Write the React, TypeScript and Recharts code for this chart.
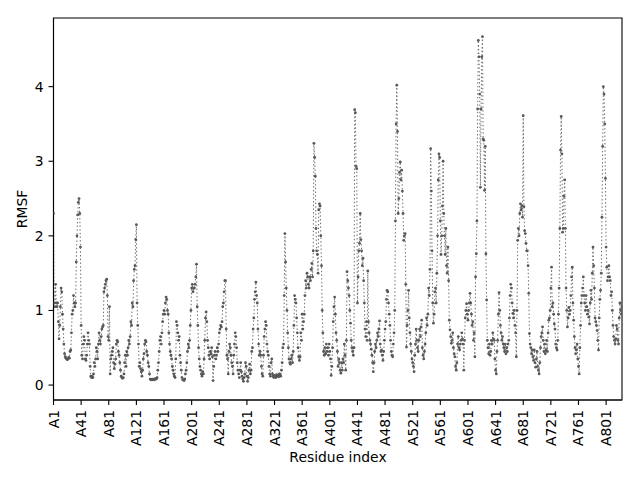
import React from "react";
import { LineChart, Line, XAxis, YAxis, ReferenceArea, Label } from "recharts";

// RMSF per residue (index 0 = residue A1)
const rmsfA1 = [
  2.3, 1.1, 1.05, 1.35, 1.1, 1.05, 1.1, 0.85, 0.62, 0.8,
  1.05, 1.3, 1.25, 0.95, 0.75, 0.55, 0.42, 0.38, 0.36, 0.35,
  0.34, 0.35, 0.37, 0.36, 0.45, 0.47, 0.7, 0.95, 1.0, 1.2,
  1.1, 1.05, 1.1, 1.65, 2.0, 2.28, 2.45, 2.5, 2.3, 1.85,
  0.8, 0.4, 0.35, 0.55, 0.65, 0.6, 0.35, 0.33, 0.4, 0.55,
  0.7, 0.6, 0.55, 0.25, 0.12, 0.1, 0.12, 0.1, 0.15, 0.3,
  0.25, 0.35, 0.5, 0.45, 0.35, 0.55, 0.7, 0.6, 0.55, 0.65,
  0.75, 0.78, 0.8, 1.25, 1.3, 1.35, 1.4, 1.42, 1.2, 0.65,
  0.6, 1.05, 0.15, 0.35, 0.4, 0.45, 0.5, 0.3, 0.22, 0.28,
  0.35, 0.55, 0.6, 0.58, 0.45, 0.4, 0.3, 0.2, 0.12, 0.1,
];
const rmsfA101 = [
  0.09, 0.1, 0.15, 0.3, 0.4, 0.25, 0.45, 0.4, 0.5, 0.6,
  0.55, 0.65, 0.85, 0.8, 1.1, 1.05, 1.4, 1.55, 1.6, 1.95,
  2.15, 1.1, 0.8, 0.55, 0.25, 0.3, 0.22, 0.18, 0.12, 0.2,
  0.35, 0.42, 0.55, 0.6, 0.58, 0.45, 0.4, 0.3, 0.25, 0.15,
  0.08, 0.07, 0.07, 0.08, 0.07, 0.08, 0.07, 0.08, 0.09, 0.08,
  0.1, 0.2, 0.3, 0.45, 0.6, 0.65, 0.55, 0.7, 0.85, 0.95,
  1.0, 0.95, 1.1, 1.18, 1.15, 1.0, 0.95, 0.7, 0.55, 0.45,
  0.4, 0.35, 0.25, 0.2, 0.15, 0.12, 0.1, 0.35, 0.85, 0.8,
  0.7, 0.6, 0.65, 0.4, 0.3, 0.2, 0.1, 0.07, 0.07, 0.06,
  0.08, 0.15, 0.2, 0.3, 0.45, 0.55, 0.5, 0.6, 0.8, 1.0,
];
const rmsfA201 = [
  1.3, 1.35, 1.25, 1.3, 1.3, 1.35, 1.45, 1.62, 1.05, 0.8,
  0.5, 0.35, 0.25, 0.2, 0.15, 0.12, 0.18, 0.15, 0.35, 0.6,
  0.9, 0.98, 0.85, 0.6, 0.5, 0.4, 0.35, 0.45, 0.42, 0.5,
  0.38, 0.06, 0.25, 0.4, 0.45, 0.35, 0.4, 0.5, 0.45, 0.55,
  0.7, 0.75, 0.8, 0.78, 0.85, 1.05, 1.1, 1.25, 1.4, 1.4,
  0.75, 0.4, 0.35, 0.15, 0.45, 0.55, 0.5, 0.4, 0.3, 0.25,
  0.15, 0.4, 0.55, 0.7, 0.65, 0.5, 0.3, 0.2, 0.15, 0.1,
  0.2, 0.3, 0.18, 0.12, 0.08, 0.05, 0.1, 0.15, 0.3, 0.25,
  0.12, 0.05, 0.1, 0.2, 0.28, 0.15, 0.2, 0.45, 0.5, 0.75,
  0.9, 1.15, 1.25, 1.38, 1.2, 1.1, 0.75, 0.55, 0.4, 0.45,
];
const rmsfA301 = [
  0.4, 0.25, 0.15, 0.12, 0.4, 0.65, 0.75, 0.85, 0.8, 0.55,
  0.45, 0.4, 0.25, 0.15, 0.12, 0.3, 0.35, 0.15, 0.12, 0.1,
  0.13, 0.12, 0.1, 0.14, 0.12, 0.13, 0.11, 0.15, 0.14, 0.12,
  0.2, 0.3, 0.5, 0.55, 1.2, 2.03, 1.65, 1.3, 1.0, 0.7,
  0.5, 0.35, 0.3, 0.28, 0.35, 0.4, 0.3, 0.45, 0.8, 1.2,
  1.15, 1.1, 0.9, 0.7, 0.5, 0.38, 0.33, 0.38, 0.7, 0.6,
  0.95, 0.75, 0.85, 0.95, 1.2, 1.4, 1.3, 1.5, 1.45, 1.35,
  1.3, 1.45, 1.4, 1.55, 1.63, 1.45, 1.8, 3.24, 3.05, 2.8,
  2.1, 1.8, 1.75, 1.5, 2.35, 2.43, 2.4, 2.0, 1.6, 1.0,
  0.7, 0.45, 0.4, 0.5, 0.42, 0.55, 0.45, 0.5, 0.4, 0.55,
];
const rmsfA401 = [
  0.45, 0.35, 0.13, 0.25, 0.5, 0.85, 1.05, 1.18, 0.95, 0.7,
  0.6, 0.45, 0.25, 0.35, 0.3, 0.2, 0.16, 0.3, 0.2, 0.35,
  0.3, 0.55, 0.4, 0.2, 0.6, 1.52, 1.4, 1.3, 1.2, 1.0,
  0.83, 0.6, 0.5, 0.45, 0.4, 0.5, 3.69, 3.65, 2.93, 2.9,
  1.1, 1.45, 1.8, 1.9, 2.3, 1.95, 1.8, 1.6, 1.7, 1.4,
  1.1, 0.75, 0.65, 0.85, 0.6, 1.53, 0.85, 0.7, 0.6, 0.55,
  0.48, 0.4, 0.3, 0.18, 0.3, 0.45, 0.55, 0.5, 0.6, 0.7,
  0.65, 0.75, 0.86, 0.55, 0.45, 0.47, 0.4, 0.33, 0.45, 0.6,
  0.75, 0.85, 1.15, 1.27, 1.25, 1.1, 0.95, 0.8, 0.6, 0.45,
  0.4, 0.38, 0.55, 0.7, 1.0, 2.2, 3.5, 4.02, 3.4, 2.3,
];
const rmsfA501 = [
  2.5, 2.85, 2.99, 2.75, 2.88, 2.6, 2.3, 1.94, 2.0, 2.03,
  1.35, 0.51, 0.8, 1.0, 1.27, 0.9, 0.7, 0.55, 0.45, 0.35,
  0.3, 0.25, 0.18, 0.4, 0.55, 0.75, 0.6, 0.5, 0.45, 0.6,
  0.75, 0.65, 0.78, 0.87, 0.5, 0.4, 0.35, 0.45, 0.55, 0.7,
  0.9, 0.8, 0.95, 1.3, 1.2, 1.55, 3.17, 2.6, 1.8, 1.1,
  0.83, 0.95, 1.25, 1.3, 1.1, 1.5, 2.0, 2.75, 3.1, 3.05,
  2.2, 1.75, 2.0, 2.4, 3.0, 2.3, 2.0, 1.75, 2.1, 1.6,
  1.5, 1.85, 1.4, 0.87, 0.74, 0.65, 0.56, 0.6, 0.7, 0.5,
  0.42, 0.38, 0.25, 0.2, 0.3, 0.55, 0.65, 0.5, 0.47, 0.55,
  0.6, 0.7, 0.62, 0.55, 0.2, 0.6, 0.9, 1.0, 1.09, 0.95,
];
const rmsfA601 = [
  0.87, 1.0, 1.1, 1.23, 1.1, 0.95, 0.8, 0.85, 0.6, 0.7,
  0.38, 1.45, 1.76, 2.2, 3.7, 4.62, 4.4, 3.9, 2.65, 3.7,
  4.4, 4.67, 3.3, 3.28, 2.61, 3.2, 1.76, 1.14, 0.6, 0.5,
  0.42, 0.55, 0.4, 0.45, 0.6, 0.55, 0.7, 0.62, 0.6, 0.35,
  0.2, 0.15, 0.45, 0.6, 0.95, 1.24, 1.0, 0.8, 0.7, 0.6,
  0.65, 0.55, 0.5, 0.45, 0.55, 0.42, 0.5, 0.45, 0.55, 0.6,
  0.9, 1.2, 1.35, 1.3, 1.1, 0.96, 0.9, 1.0, 0.8, 0.7,
  0.38, 1.0, 1.94, 2.1, 2.0, 2.3, 2.43, 2.35, 2.4, 2.25,
  3.61, 2.39, 2.07, 2.03, 1.9, 1.8, 1.8, 1.6, 1.23, 0.69,
  0.55, 0.5, 0.42, 0.47, 0.38, 0.33, 0.47, 0.3, 0.24, 0.35,
];
const rmsfA701 = [
  0.45, 0.25, 0.2, 0.15, 0.3, 0.5, 0.65, 0.7, 0.78, 0.6,
  0.45, 0.55, 0.42, 0.47, 0.6, 0.45, 0.7, 0.87, 0.9, 1.0,
  1.3, 1.58, 1.05, 1.1, 0.95, 0.82, 0.75, 0.55, 0.5, 0.47,
  0.6, 0.95, 1.3, 2.1, 3.15, 3.6, 3.1, 2.05, 2.1, 2.53,
  2.75, 2.1, 1.3, 1.0, 0.78, 0.9, 1.04, 0.95, 1.0, 1.2,
  1.45, 1.58, 1.1, 0.87, 0.65, 0.5, 0.42, 0.47, 0.55, 0.35,
  0.25, 0.15, 0.5, 0.8, 1.1, 1.2, 1.3, 1.45, 1.2, 1.1,
  1.0, 1.2, 1.05, 0.95, 1.0, 0.91, 0.82, 1.1, 1.27, 1.15,
  1.5, 1.85, 1.6, 1.3, 0.9, 0.85, 0.8, 0.73, 0.6, 0.47,
  0.9, 1.15, 1.27, 1.5, 2.25, 3.2, 4.0, 3.9, 3.5, 2.77,
  1.85, 1.58, 1.4, 1.45, 1.6, 1.45, 1.4, 1.2, 1.25, 1.0,
  0.8, 0.65, 0.6, 0.55, 0.62, 0.8, 0.75, 0.6, 0.55, 0.9,
  1.1, 1.0, 0.95, 1.05,
];

const rmsf = [
  ...rmsfA1, ...rmsfA101, ...rmsfA201, ...rmsfA301,
  ...rmsfA401, ...rmsfA501, ...rmsfA601, ...rmsfA701,
];

const tickResidues = [1, 41, 81, 121, 161, 201, 241, 281, 321, 361, 401, 441, 481, 521, 561, 601, 641, 681, 721, 761, 801];
const yTicks = [0, 1, 2, 3, 4];

const data = rmsf.map((v, i) => ({ idx: i, rmsf: v }));
const lastIdx = rmsf.length - 1;

const font = "DejaVu Sans";
const fs = 13.9;

const ResidueTick = (props: any) => {
  const { x, y, payload } = props;
  return (
    <text
      x={x}
      y={y}
      transform={`rotate(-90, ${x}, ${y})`}
      textAnchor="end"
      dominantBaseline="central"
      fontFamily={font}
      fontSize={fs}
      fill="#000"
    >
      {`A${payload.value + 1}`}
    </text>
  );
};

export default function App() {
  return (
    <div style={{ position: "absolute", left: 0, top: 0, width: 640, height: 480, background: "#fff" }}>
      <LineChart width={640} height={480} data={data} margin={{ top: 18, right: 18, left: 0, bottom: 0 }}>
        <XAxis
          dataKey="idx"
          type="number"
          domain={[0, lastIdx]}
          allowDataOverflow
          ticks={tickResidues.map((r) => r - 1)}
          interval={0}
          height={80}
          tickSize={5}
          tickMargin={5}
          tick={<ResidueTick />}
          stroke="#000"
          tickLine={{ stroke: "#000", strokeWidth: 1.1 }}
          axisLine={{ stroke: "#000", strokeWidth: 1.1 }}
        >
          <Label
            content={() => (
              <text x={338} y={462} textAnchor="middle" fontFamily={font} fontSize={fs} fill="#000">
                Residue index
              </text>
            )}
          />
        </XAxis>
        <YAxis
          type="number"
          domain={[-0.2, 4.92]}
          allowDataOverflow
          ticks={yTicks}
          width={53.5}
          tickSize={5}
          tickMargin={5}
          tick={{ fontFamily: font, fontSize: fs, fill: "#000" }}
          tickLine={{ stroke: "#000", strokeWidth: 1.1 }}
          axisLine={{ stroke: "#000", strokeWidth: 1.1 }}
        >
          <Label
            content={() => (
              <text
                x={27}
                y={209}
                transform="rotate(-90, 27, 209)"
                textAnchor="middle"
                fontFamily={font}
                fontSize={fs}
                fill="#000"
              >
                RMSF
              </text>
            )}
          />
        </YAxis>
        <Line
          type="linear"
          dataKey="rmsf"
          stroke="#6a6a6a"
          strokeWidth={1}
          strokeDasharray="1.4 2.3"
          dot={{ r: 1.4, fill: "#585858", strokeWidth: 0 }}
          activeDot={false}
          isAnimationActive={false}
        />
        <ReferenceArea
          x1={0}
          x2={lastIdx}
          y1={-0.2}
          y2={4.92}
          fill="none"
          stroke="#000"
          strokeWidth={1.1}
          ifOverflow="visible"
        />
      </LineChart>
    </div>
  );
}
